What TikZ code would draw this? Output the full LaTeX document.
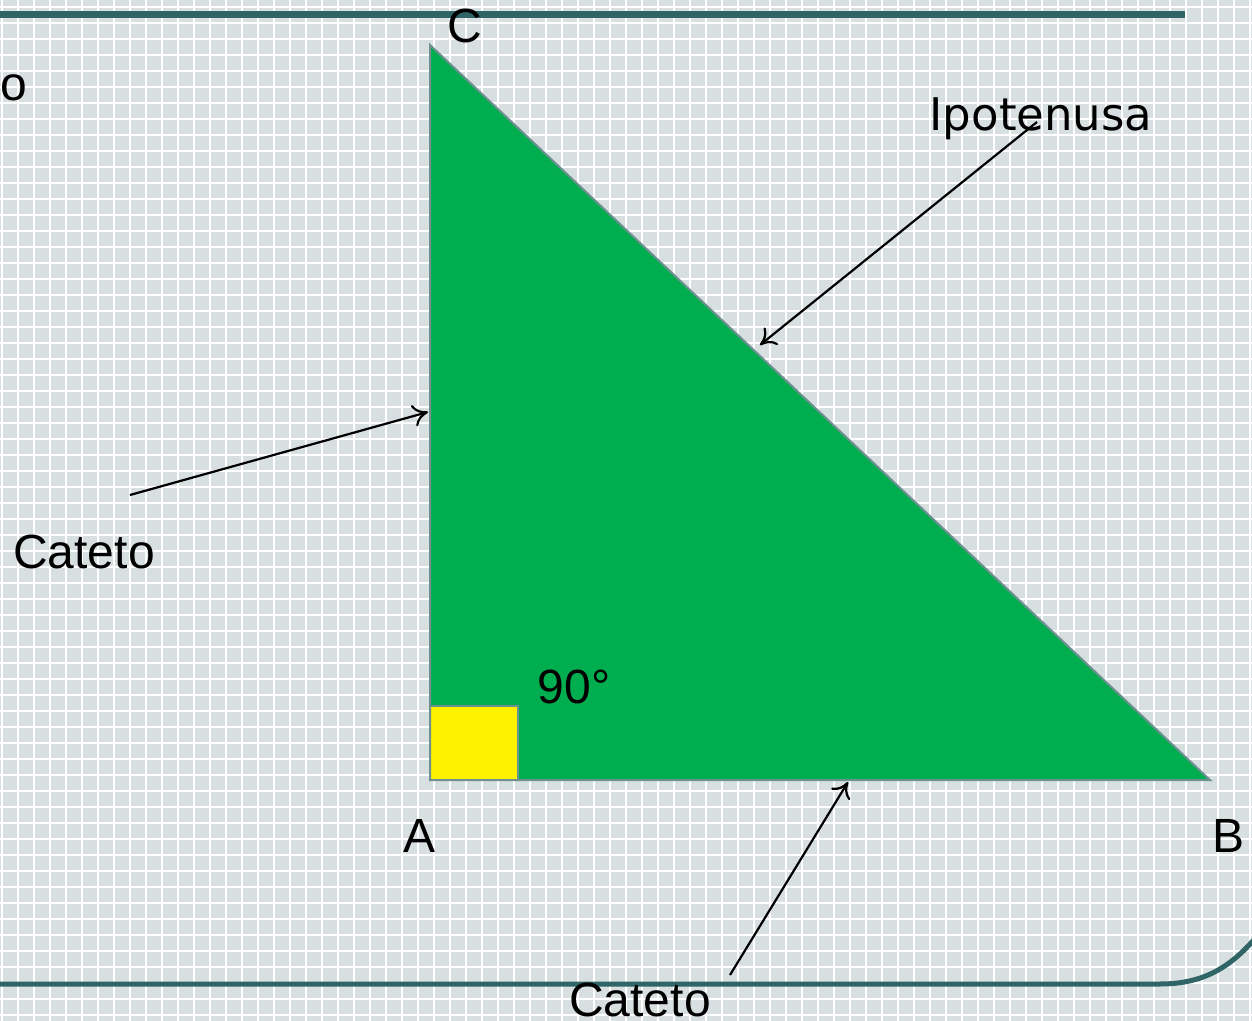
\documentclass[tikz,border=0pt]{standalone}
\usepackage{fontspec}
\usetikzlibrary{arrows.meta}
\setmainfont{Liberation Sans}
\newfontfamily\comicfont{DejaVu Sans}
\begin{document}
\begin{tikzpicture}[x=0.5pt,y=-0.5pt,
  lbl/.style={anchor=base,inner sep=0pt,font=\fontsize{24}{28}\selectfont},
  ptr/.style={draw=black,line width=1.1pt,-{To[length=7.5pt,width=11pt]}},
  bar/.style={draw=barcol,line cap=butt}]
\definecolor{bgcol}{HTML}{D7DFE0}
\definecolor{barcol}{HTML}{2F6566}
\definecolor{trigreen}{HTML}{00AE50}
\definecolor{edgecol}{HTML}{6F9090}
\useasboundingbox (0,0) rectangle (1252,1021);
\fill[bgcol] (0,0) rectangle (1252,1021);
\foreach \i in {0,...,78} {\draw[white,line width=1.1pt] (2+16*\i,0) -- (2+16*\i,1021);}
\foreach \j in {0,...,64} {\draw[white,line width=1.1pt] (0,7+16*\j) -- (1252,7+16*\j);}
% bars
\draw[bar,line width=3.5pt] (0,15) -- (1185,15);
\draw[bar,line width=2.5pt] (0,984) -- (1160,984) .. controls (1205,984) and (1232,966) .. (1258,935);
% triangle
\coordinate (A) at (430,780);
\coordinate (B) at (1210,780);
\coordinate (C) at (430,45);
\fill[trigreen] (A) -- (B) -- (C) -- cycle;
\filldraw[fill=yellow,draw=edgecol,line width=1pt] (430,706) rectangle (518,780);
\draw[edgecol,line width=1pt] (A) -- (B) -- (C) -- cycle;
% labels
\node[lbl] (lo) at (14,101) {o};
\node[lbl] (lC) at (465,43) {C};
\node[lbl] (lA) at (420,852) {A};
\node[lbl] (lB) at (1228,852) {B};
\node[lbl] (l90) at (574,703) {90°};
\node[lbl] (cat1) at (84,568) {Cateto};
\node[lbl] (cat2) at (640,1016) {Cateto};
\node[lbl,font=\comicfont\fontsize{22.5}{26}\selectfont] (ipo) at (1041,131) {Ipotenusa};
% arrows
\coordinate (s1) at (130,495);
\coordinate (e1) at (428,412);
\coordinate (s2) at (1037,122);
\coordinate (e2) at (760,345);
\coordinate (s3) at (730,975);
\coordinate (e3) at (848,782);
\draw[ptr] (s1) -- (e1);
\draw[ptr] (s2) -- (e2);
\draw[ptr] (s3) -- (e3);
\end{tikzpicture}
\end{document}
